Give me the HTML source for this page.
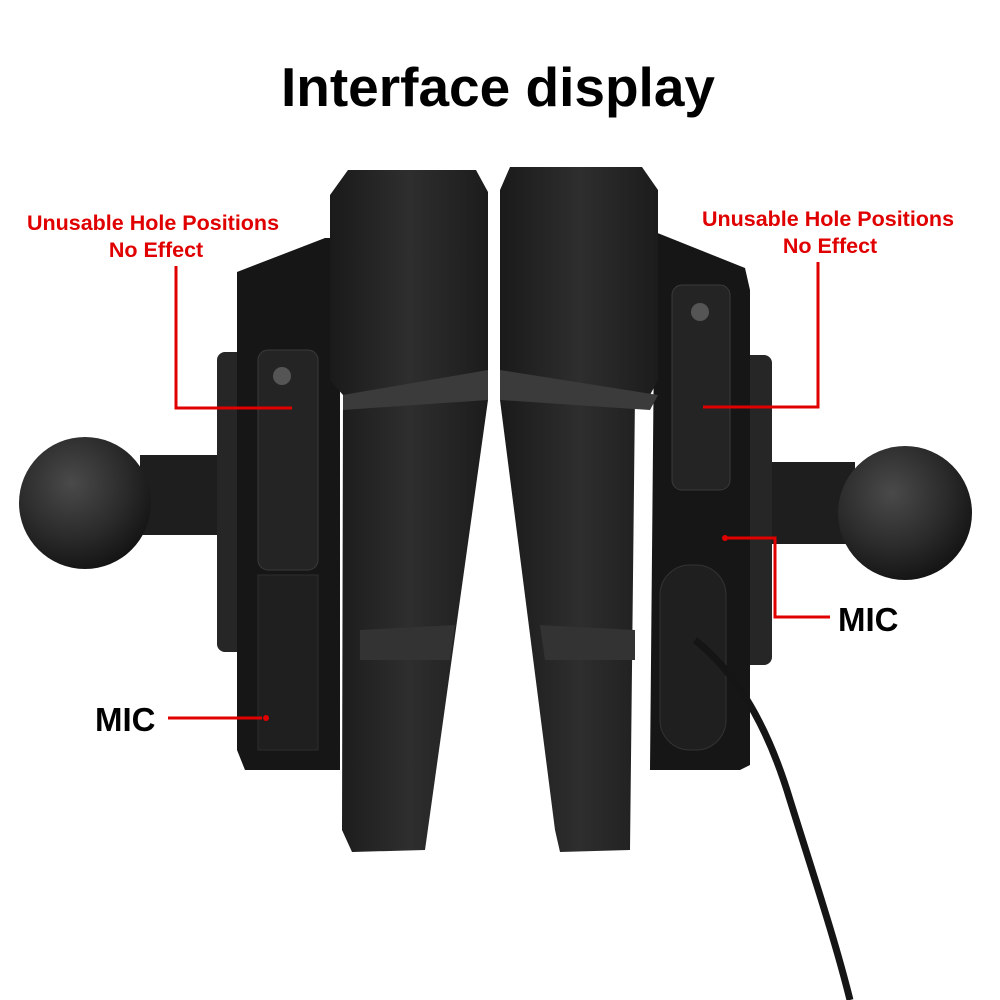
<!DOCTYPE html>
<html><head><meta charset="utf-8"><style>
html,body{margin:0;padding:0;background:#fff;}
svg{display:block;}
</style></head><body>
<svg width="1000" height="1000" viewBox="0 0 1000 1000" xmlns="http://www.w3.org/2000/svg">
<defs>
<radialGradient id="ball" cx="0.4" cy="0.35" r="0.7">
<stop offset="0" stop-color="#4a4a4a"/><stop offset="0.6" stop-color="#2a2a2a"/><stop offset="1" stop-color="#121212"/>
</radialGradient>
<linearGradient id="front" x1="0" x2="1">
<stop offset="0" stop-color="#1a1a1a"/><stop offset="0.5" stop-color="#2e2e2e"/><stop offset="1" stop-color="#1c1c1c"/>
</linearGradient>
</defs>
<rect width="1000" height="1000" fill="#fff"/>
<text x="498" y="106" text-anchor="middle" font-family="Liberation Sans, sans-serif" font-weight="bold" font-size="55" fill="#000">Interface display</text>

<!-- LEFT DEVICE -->
<rect x="140" y="455" width="90" height="80" fill="#1e1e1e"/>
<circle cx="85" cy="503" r="66" fill="url(#ball)"/>
<rect x="217" y="352" width="30" height="300" rx="8" fill="#262626"/>
<polygon points="237,272 325,238 340,238 340,770 245,770 237,750" fill="#161616"/>
<rect x="258" y="350" width="60" height="220" rx="10" fill="#242424" stroke="#3a3a3a"/>
<circle cx="282" cy="376" r="9" fill="#555"/>
<rect x="258" y="575" width="60" height="175" fill="#1f1f1f" stroke="#2e2e2e"/>
<polygon points="330,195 348,170 476,170 488,192 488,400 425,850 352,852 342,830 343,395 330,380" fill="url(#front)"/>
<polygon points="343,395 488,370 488,400 343,410" fill="#3b3b3b"/>
<polygon points="360,630 455,625 450,660 360,660" fill="#333"/>

<!-- RIGHT DEVICE -->
<rect x="765" y="462" width="90" height="82" fill="#1e1e1e"/>
<circle cx="905" cy="513" r="67" fill="url(#ball)"/>
<rect x="740" y="355" width="32" height="310" rx="8" fill="#262626"/>
<polygon points="655,232 745,268 750,290 750,765 740,770 650,770" fill="#161616"/>
<rect x="672" y="285" width="58" height="205" rx="10" fill="#242424" stroke="#3a3a3a"/>
<circle cx="700" cy="312" r="9" fill="#555"/>
<rect x="660" y="565" width="66" height="185" rx="30" fill="#1f1f1f" stroke="#333"/>
<polygon points="500,190 510,167 642,167 658,190 658,380 650,395 635,395 630,850 560,852 555,830 500,400" fill="url(#front)"/>
<polygon points="500,370 658,395 650,410 500,400" fill="#3b3b3b"/>
<polygon points="540,625 635,630 635,660 545,660" fill="#333"/>
<path d="M695,640 C720,660 760,700 790,800 C815,880 835,940 850,1000" stroke="#151515" stroke-width="7" fill="none"/>

<!-- LABELS -->
<g font-family="Liberation Sans, sans-serif" font-weight="bold" fill="#e00000" font-size="21.5" text-anchor="middle">
<text x="153" y="230">Unusable Hole Positions</text>
<text x="156" y="257">No Effect</text>
<text x="828" y="226">Unusable Hole Positions</text>
<text x="830" y="253">No Effect</text>
</g>
<g stroke="#e00000" stroke-width="3" fill="none">
<polyline points="176,266 176,408 292,408"/>
<polyline points="818,262 818,407 703,407"/>
<line x1="168" y1="718" x2="262" y2="718"/>
<polyline points="727,538 775,538 775,617 830,617"/>
</g>
<circle cx="266" cy="718" r="3" fill="#e00000"/>
<circle cx="725" cy="538" r="3" fill="#e00000"/>
<g font-family="Liberation Sans, sans-serif" font-weight="bold" fill="#000" font-size="33">
<text x="95" y="731">MIC</text>
<text x="838" y="631">MIC</text>
</g>
</svg>
</body></html>
